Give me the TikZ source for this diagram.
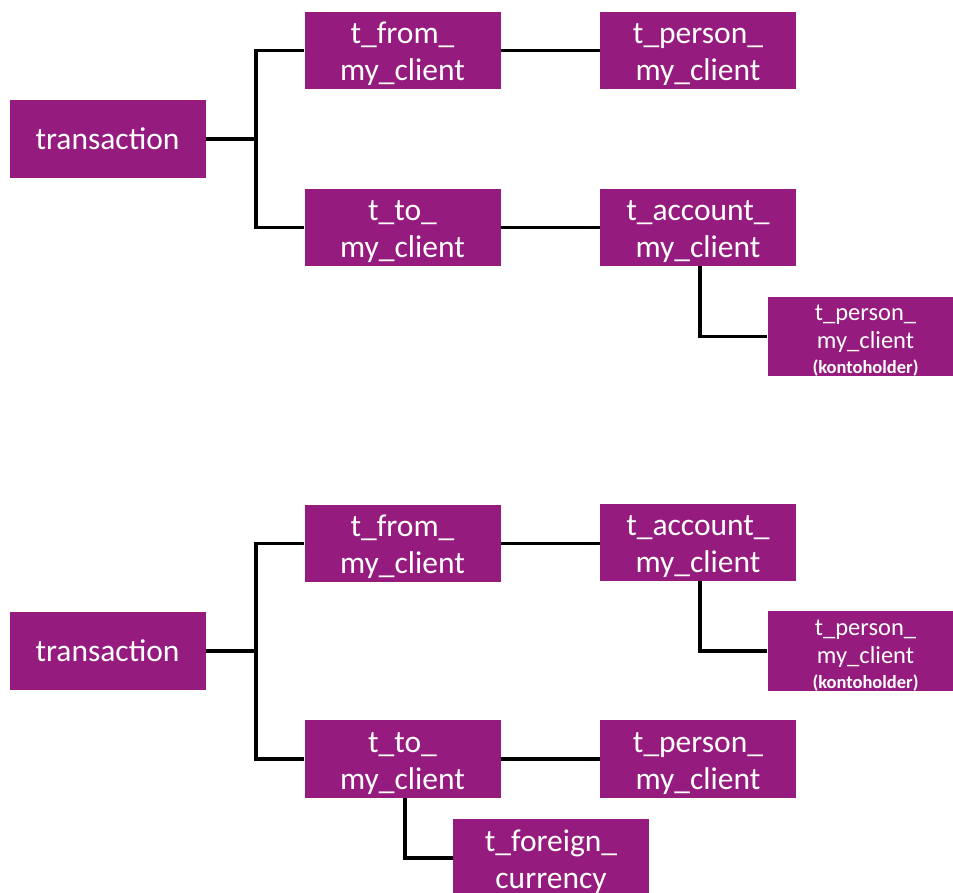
\documentclass[tikz,border=0pt]{standalone}
\usepackage{fontspec}
\setmainfont{Carlito}
\definecolor{boxpurple}{RGB}{149,27,126}
\newcommand\topstrut{\rule{0pt}{29pt}}
\newcommand\khstrut{\rule{0pt}{24pt}}
\begin{document}
\begin{tikzpicture}[x=1pt,y=-1pt,
  box/.style={fill=boxpurple,text=white,inner sep=0pt,minimum width=196pt,minimum height=77pt,align=center,font=\fontsize{31.5}{37}\selectfont},
  khbox/.style={box,font=\fontsize{24.5}{28}\selectfont},
  conn/.style={line width=3.2pt,black}]
\useasboundingbox (0,0) rectangle (953,892);
\clip (0,0) rectangle (953,892);
% top diagram
\node[box,minimum height=78pt] (tr1) at (107.5,139) {transaction};
\node[box] (from1) at (402.5,50.5) {\topstrut t\_from\_\\my\_client};
\node[box] (pers1) at (698,50.5) {\topstrut t\_person\_\\my\_client};
\node[box] (to1) at (402.5,227.5) {\topstrut t\_to\_\\my\_client};
\node[box] (acc1) at (698,227.5) {\topstrut t\_account\_\\my\_client};
\node[khbox,minimum height=79pt] (kh1) at (865.5,336.5) {\khstrut t\_person\_\\my\_client\\[-3pt]{\fontsize{18.5}{20}\selectfont\bfseries (kontoholder)}};
\coordinate (j1) at (256,139);
\draw[conn] (tr1.east) -- (j1);
\draw[conn] (from1.west) -| (j1) |- (to1.west);
\draw[conn] (from1.east) -- (pers1.west);
\draw[conn] (to1.east) -- (acc1.west);
\draw[conn] ([xshift=2pt]acc1.south) |- (kh1.west);
% bottom diagram
\node[box,minimum height=78pt] (tr2) at (107.5,651) {transaction};
\node[box] (from2) at (402.5,543.5) {\topstrut t\_from\_\\my\_client};
\node[box] (acc2) at (698,542.5) {\topstrut t\_account\_\\my\_client};
\node[khbox,minimum height=78pt] (kh2) at (865.5,651) {\khstrut t\_person\_\\my\_client\\[-3pt]{\fontsize{18.5}{20}\selectfont\bfseries (kontoholder)}};
\node[box,minimum height=78pt] (to2) at (402.5,759) {\topstrut t\_to\_\\my\_client};
\node[box,minimum height=78pt] (pers2) at (698,759) {\topstrut t\_person\_\\my\_client};
\node[box,minimum height=78pt] (fc2) at (551,858) {\rule{0pt}{30pt}t\_foreign\_\\currency};
\coordinate (j2) at (256,651);
\draw[conn] (tr2.east) -- (j2);
\draw[conn] (from2.west) -| (j2) |- (to2.west);
\draw[conn] (from2.east) -- (acc2.west |- from2.east);
\draw[conn] ([xshift=2pt]acc2.south) |- (kh2.west);
\draw[conn] (to2.east) -- (pers2.west);
\draw[conn] ([xshift=2.5pt]to2.south) |- (fc2.west);
\end{tikzpicture}
\end{document}
